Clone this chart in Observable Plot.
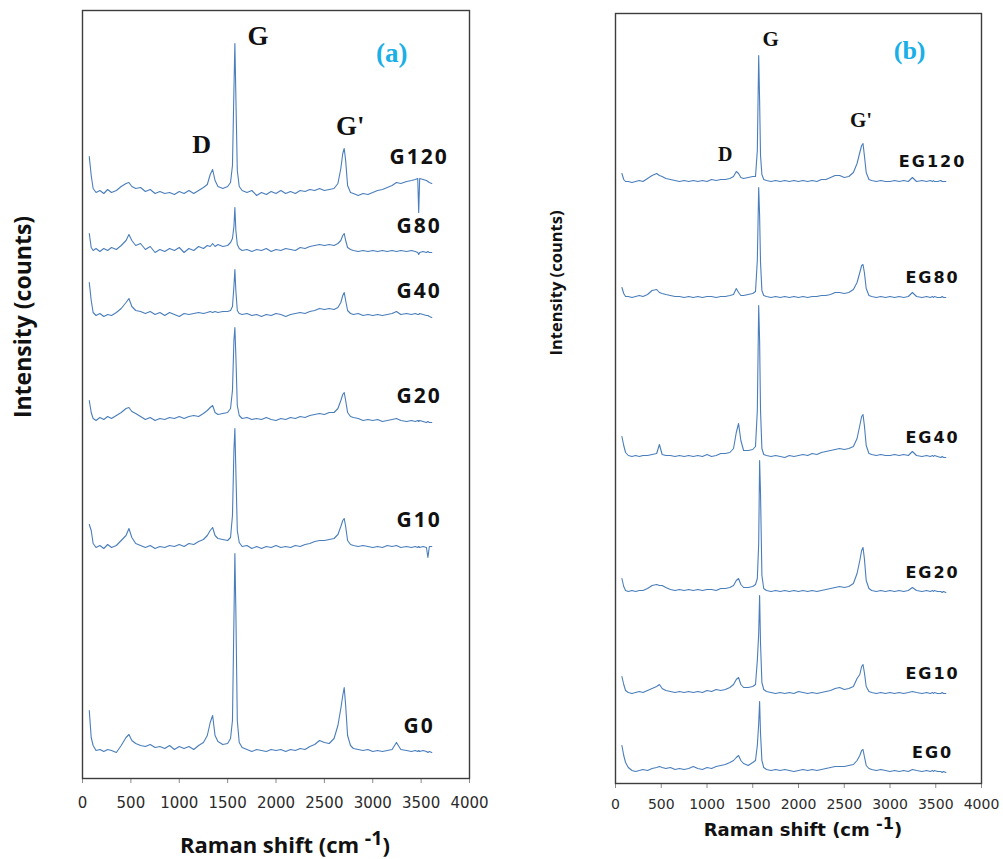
<!DOCTYPE html>
<html>
<head>
<meta charset="utf-8">
<script src="https://cdn.jsdelivr.net/npm/d3@7"></script>
<script src="https://cdn.jsdelivr.net/npm/@observablehq/plot@0.6"></script>
<style>
  body { margin: 0; background: #fff; }
  #wrap { position: relative; width: 1003px; height: 859px; overflow: hidden; background: #fff; }
  .panel { position: absolute; top: 0; }
  .title { position: absolute; white-space: nowrap; color: #111; font-weight: bold; line-height: 1; }
  .sup { position: relative; top: -0.42em; font-size: 0.9em; }
</style>
</head>
<body>
<div id="wrap">
  <div id="panelA" class="panel" style="left:0px"></div>
  <div id="panelB" class="panel" style="left:500px"></div>
  <div class="title" style="left:22px;top:317px;transform:translate(-50%,-50%) rotate(-90deg);font-family:'Open Sans';font-size:23px">Intensity (counts)</div>
  <div class="title" style="left:285px;top:844px;transform:translate(-50%,-50%);font-family:'Open Sans';font-size:22px">Raman shift (cm <span class="sup">-1</span>)</div>
  <div class="title" style="left:556px;top:283px;transform:translate(-50%,-50%) rotate(-90deg);font-family:'Open Sans';font-size:16.5px">Intensity (counts)</div>
  <div class="title" style="left:803px;top:830px;transform:translate(-50%,-50%);font-family:'DejaVu Sans';font-size:18px">Raman shift (cm <span class="sup">-1</span>)</div>
</div>
<script>
// Raman shift grid (cm-1), shared by every spectrum
const ramanShift = [
  70, 90, 110, 140, 180, 220, 260, 300, 350, 400,
  450, 480, 510, 550, 600, 650, 700, 750, 800, 850,
  900, 950, 1000, 1050, 1100, 1150, 1200, 1250, 1290, 1320,
  1345, 1370, 1400, 1450, 1500, 1530, 1550, 1565, 1575, 1585,
  1600, 1620, 1650, 1700, 1750, 1800, 1850, 1900, 1950, 2000,
  2050, 2100, 2150, 2200, 2250, 2300, 2350, 2400, 2450, 2500,
  2550, 2600, 2640, 2670, 2690, 2705, 2720, 2740, 2770, 2800,
  2850, 2900, 2950, 3000, 3050, 3100, 3150, 3200, 3245, 3290,
  3350, 3400, 3440, 3465, 3475, 3485, 3520, 3555, 3570, 3585,
  3610
];
const xTicks = [0, 500, 1000, 1500, 2000, 2500, 3000, 3500, 4000];

// Panel (a): stacked intensities (offset counts)
const seriesNamesA = ["G120", "G80", "G40", "G20", "G10", "G0"];
const G120 = [
  622, 603, 590, 586, 588, 585, 589, 586, 588, 592,
  595, 596, 592, 590, 591, 587, 589, 585, 587, 585,
  586, 584, 587, 585, 588, 585, 588, 591, 594, 604,
  609, 598, 592, 590, 592, 596, 613, 688, 735, 683,
  608, 592, 588, 586, 588, 583, 586, 584, 587, 585,
  588, 585, 587, 585, 588, 587, 589, 588, 590, 588,
  589, 590, 595, 610, 625, 630, 618, 593, 586, 585,
  583, 585, 584, 586, 588, 589, 591, 593, 596, 595,
  597, 598, 599, 600, 566, 600, 599, 598, 597, 596,
  595
];
const G80 = [
  545, 531, 528, 530, 527, 530, 528, 531, 529, 533,
  538, 544, 538, 533, 535, 529, 532, 526, 529, 527,
  530, 528, 531, 526, 530, 528, 532, 530, 533, 532,
  535, 532, 534, 532, 533, 536, 540, 552, 571, 548,
  534, 530, 528, 529, 527, 529, 528, 530, 527, 529,
  528, 530, 529, 528, 531, 530, 532, 533, 534, 533,
  534, 533, 535, 538, 543, 545, 538, 531, 529, 528,
  527, 528, 527, 528, 527, 528, 527, 528, 527, 528,
  527, 528, 527, 526, 524, 526, 527, 526, 527, 526,
  526
];
const G40 = [
  496, 478, 466, 463, 465, 462, 464, 463, 466, 470,
  476, 480, 472, 468, 467, 465, 467, 464, 466, 463,
  466, 464, 462, 465, 464, 465, 466, 465, 466, 467,
  466, 467, 466, 467, 467, 468, 472, 492, 509, 488,
  468, 465, 464, 465, 463, 464, 462, 464, 463, 465,
  464, 462, 464, 465, 466, 465, 467, 468, 470, 469,
  470, 469, 471, 476, 483, 486, 478, 468, 465, 464,
  465, 463, 464, 463, 464, 463, 464, 465, 467, 464,
  465, 464, 465, 464, 464, 465, 464, 463, 463, 462,
  461
];
const G20 = [
  378, 366, 360, 358, 361, 359, 362, 360, 363, 366,
  370, 371, 367, 365, 362, 359, 361, 358, 360, 359,
  361, 360, 362, 360, 362, 363, 362, 365, 368, 371,
  373, 366, 364, 365, 366, 370, 388, 438, 451, 423,
  373, 363, 360, 361, 359, 360, 359, 361, 359, 358,
  360, 359, 361, 360, 362, 361, 363, 364, 365, 364,
  366, 366, 370, 378, 384, 386, 378, 366, 362, 361,
  360, 358, 359, 358, 359, 357, 358, 359, 360, 358,
  357, 358, 357, 358, 357, 358, 357, 356, 357, 356,
  356
];
const G10 = [
  254, 248, 235, 231, 233, 230, 234, 231, 233, 238,
  243, 250, 241, 235, 233, 231, 233, 230, 232, 231,
  233, 232, 234, 232, 235, 234, 237, 239, 243, 248,
  251, 243, 240, 239, 238, 241, 263, 328, 350, 308,
  248, 236, 232, 233, 230, 232, 230, 232, 231, 233,
  231, 232, 231, 233, 232, 234, 235, 237, 238, 238,
  239, 240, 244, 252, 258, 260, 252, 238, 234, 233,
  232, 233, 232, 231, 232, 231, 233, 232, 233, 231,
  232, 231, 232, 231, 232, 231, 232, 231, 221, 232,
  232
];
const G0 = [
  68, 41, 33, 28, 29, 27, 29, 28, 26, 33,
  41, 44, 38, 35, 33, 32, 34, 31, 32, 30,
  33, 29, 32, 30, 32, 29, 33, 36, 43, 56,
  63, 43, 37, 34, 35, 40, 58, 158, 225, 168,
  58, 36, 31, 29, 27, 29, 28, 27, 29, 28,
  29, 27, 29, 28, 30, 29, 32, 34, 38, 36,
  35, 40, 53, 70, 83, 91, 73, 43, 33, 30,
  29, 28, 29, 27, 28, 27, 28, 29, 36, 29,
  28, 27, 28, 27, 28, 27, 28, 27, 26, 27,
  26
];

// Panel (b)
const seriesNamesB = ["EG120", "EG80", "EG40", "EG20", "EG10", "EG0"];
const EG120 = [
  610, 604, 602, 602, 601, 602, 603, 602, 605, 608,
  610, 608, 607, 605, 604, 603, 602, 603, 602, 603,
  602, 603, 602, 604, 603, 604, 604, 605, 607, 612,
  610, 606, 605, 606, 607, 607, 633, 728, 683, 628,
  609, 604, 603, 602, 603, 602, 603, 602, 603, 602,
  603, 602, 603, 602, 604, 604, 606, 608, 608, 606,
  607, 611, 620, 631, 638, 640, 628, 611, 604, 603,
  602, 603, 602, 602, 603, 602, 603, 602, 606, 602,
  603, 602, 603, 602, 603, 602, 602, 603, 602, 602,
  602
];
const EG80 = [
  496, 490, 487, 487, 486, 487, 488, 487, 489, 493,
  494, 491, 490, 489, 488, 487, 487, 486, 487, 486,
  487, 486, 487, 487, 486, 487, 487, 488, 489, 495,
  491, 488, 488, 489, 490, 492, 523, 596, 568, 521,
  493, 488, 487, 486, 487, 486, 487, 486, 487, 486,
  487, 486, 487, 487, 488, 488, 489, 491, 491, 490,
  491, 494, 501, 511, 518, 519, 511, 495, 488, 487,
  486, 487, 486, 487, 486, 487, 486, 487, 491, 487,
  486, 487, 486, 487, 486, 487, 486, 486, 487, 486,
  486
];
const EG40 = [
  347, 338, 331, 328, 327, 328, 327, 328, 328, 329,
  330, 339, 329, 328, 328, 327, 328, 327, 328, 327,
  328, 327, 329, 327, 328, 330, 330, 331, 335, 351,
  360, 343, 333, 333, 334, 337, 373, 478, 443, 373,
  335, 329, 328, 327, 328, 327, 326, 328, 327, 328,
  329, 328, 330, 329, 331, 332, 333, 334, 335, 334,
  335, 337, 345, 358, 367, 369, 358, 338, 330, 329,
  328, 329, 328, 328, 329, 328, 329, 328, 332, 328,
  327, 328, 327, 328, 327, 328, 327, 326, 327, 326,
  326
];
const EG20 = [
  205, 197, 193, 192, 193, 192, 193, 193, 195, 198,
  199, 198, 198, 196, 194, 193, 194, 193, 194, 193,
  194, 193, 194, 194, 193, 195, 195, 196, 198, 203,
  205, 199, 196, 196, 197, 199, 205, 240, 323, 290,
  208, 195, 193, 192, 193, 192, 193, 192, 193, 192,
  193, 192, 193, 192, 193, 194, 195, 196, 197, 196,
  197, 200, 210, 223, 233, 236, 225, 203, 195, 193,
  192, 193, 192, 193, 192, 193, 192, 193, 196, 193,
  192, 193, 192, 193, 192, 193, 192, 192, 191, 192,
  191
];
const EG10 = [
  107, 99, 93, 91, 90, 91, 92, 91, 93, 95,
  97, 99, 95, 93, 92, 91, 92, 91, 92, 91,
  92, 91, 93, 92, 94, 93, 94, 96, 99, 104,
  106, 99, 96, 96, 97, 99, 123, 150, 188, 140,
  101, 94, 92, 91, 90, 91, 90, 91, 90, 92,
  91, 90, 91, 90, 91, 92, 93, 95, 96, 94,
  95, 97, 105, 109, 117, 119, 111, 97, 92, 91,
  90, 91, 90, 91, 90, 91, 90, 91, 92, 91,
  90, 91, 90, 91, 90, 91, 90, 90, 91, 90,
  90
];
const EG0 = [
  38, 28, 21, 16, 13, 12, 13, 14, 13, 15,
  16, 17, 16, 15, 16, 14, 15, 14, 15, 17,
  15, 14, 16, 15, 17, 18, 19, 21, 23, 26,
  28, 23, 20, 18, 21, 23, 38, 60, 82, 50,
  23, 16, 14, 13, 14, 13, 14, 13, 12, 13,
  14, 13, 14, 13, 14, 15, 16, 17, 17, 17,
  18, 19, 23, 28, 33, 34, 27, 18, 15, 14,
  13, 14, 13, 12, 13, 12, 13, 12, 14, 13,
  12, 13, 12, 13, 12, 13, 12, 12, 11, 12,
  11
];

const spectraA = [G120, G80, G40, G20, G10, G0];
const spectraB = [EG120, EG80, EG40, EG20, EG10, EG0];

function tidy(names, spectra) {
  return names.flatMap((name, k) => {
    if (spectra[k].length !== ramanShift.length) console.error(name, spectra[k].length);
    return spectra[k].map((v, i) => ({series: name, shift: ramanShift[i], counts: v}));
  });
}
function peakIn(vals, lo, hi) {
  let best = -Infinity, bi = 0;
  ramanShift.forEach((x, i) => { if (x >= lo && x <= hi && vals[i] > best) { best = vals[i]; bi = i; } });
  return {shift: ramanShift[bi], counts: best};
}

function makePanel(cfg) {
  const data = tidy(cfg.names, cfg.spectra);
  const ends = cfg.names.map((name, k) => ({series: name, end: cfg.spectra[k][cfg.spectra[k].length - 1]}));
  const top = cfg.spectra[0];
  const pG = peakIn(top, 1500, 1650), pD = peakIn(top, 1250, 1450), pG2 = peakIn(top, 2600, 2800);
  const serif = {fontFamily: "Liberation Serif", fontWeight: "bold", fill: "#111"};
  const svg = Plot.plot({
    width: cfg.width, height: 820,
    marginLeft: cfg.marginLeft, marginRight: cfg.marginRight,
    marginTop: cfg.marginTop, marginBottom: cfg.marginBottom,
    x: {domain: [0, 4000]},
    y: {domain: [0, cfg.yMax], axis: null},
    style: {fontFamily: "DejaVu Sans", fontSize: cfg.tickFontSize + "px", color: "#2b2b2b", background: "transparent", overflow: "visible"},
    marks: [
      Plot.axisX({ticks: xTicks, tickFormat: d => String(d), tickSize: 5, tickPadding: cfg.tickPadding, label: null, stroke: "#8a8a8a"}),
      Plot.line(data, {x: "shift", y: "counts", z: "series", stroke: "#4A7EBB", strokeWidth: 1.1}),
      Plot.frame({stroke: "#3d3d3d", strokeWidth: 1.4}),
      Plot.text(ends, {x: () => cfg.labelX, y: d => d.end + cfg.labelOffset, text: "series", fontFamily: cfg.labelFont, fontWeight: "bold", fontSize: cfg.labelSize, fill: "#111"}),
      Plot.text([pG], {x: "shift", y: "counts", text: () => "G", dx: cfg.gDx, dy: cfg.gDy, fontSize: cfg.peakSize, ...serif}),
      Plot.text([pD], {x: "shift", y: "counts", text: () => "D", dx: cfg.dDx, dy: cfg.dDy, fontSize: cfg.peakSize - 1, ...serif}),
      Plot.text([pG2], {x: "shift", y: "counts", text: () => "G'", dx: cfg.g2Dx, dy: cfg.g2Dy, fontSize: cfg.peakSize, ...serif}),
      Plot.text([cfg.tag], {frameAnchor: "top-right", text: d => d, dx: cfg.tagDx, dy: cfg.tagDy, fontSize: cfg.tagSize, fontFamily: "Liberation Serif", fontWeight: "bold", fill: "#1AAFE6"})
    ]
  });
  svg.querySelectorAll("text").forEach(t => {
    if (/^E?G\d+$/.test(t.textContent)) t.style.letterSpacing = cfg.labelSpacing + "px";
  });
  return svg;
}

document.getElementById("panelA").append(makePanel({
  names: seriesNamesA, spectra: spectraA,
  width: 500, marginLeft: 82, marginRight: 31, marginTop: 10, marginBottom: 42, yMax: 768,
  tickFontSize: 15, tickPadding: 14,
  labelX: 3480, labelOffset: 26, labelFont: "Open Sans", labelSize: 21, labelSpacing: 2,
  peakSize: 27, gDx: 23, gDy: -7, dDx: -11, dDy: -25, g2Dx: 6, g2Dy: -22,
  tag: "(a)", tagDx: -62, tagDy: 32, tagSize: 27
}));
document.getElementById("panelB").append(makePanel({
  names: seriesNamesB, spectra: spectraB,
  width: 503, marginLeft: 115, marginRight: 22, marginTop: 13, marginBottom: 37, yMax: 770,
  tickFontSize: 14, tickPadding: 11,
  labelX: 3465, labelOffset: 20, labelFont: "DejaVu Sans", labelSize: 16, labelSpacing: 2,
  peakSize: 21, gDx: 12, gDy: -16, dDx: -11, dDy: -17, g2Dx: -2, g2Dy: -23,
  tag: "(b)", tagDx: -56, tagDy: 27, tagSize: 26
}));
</script>
</body>
</html>
